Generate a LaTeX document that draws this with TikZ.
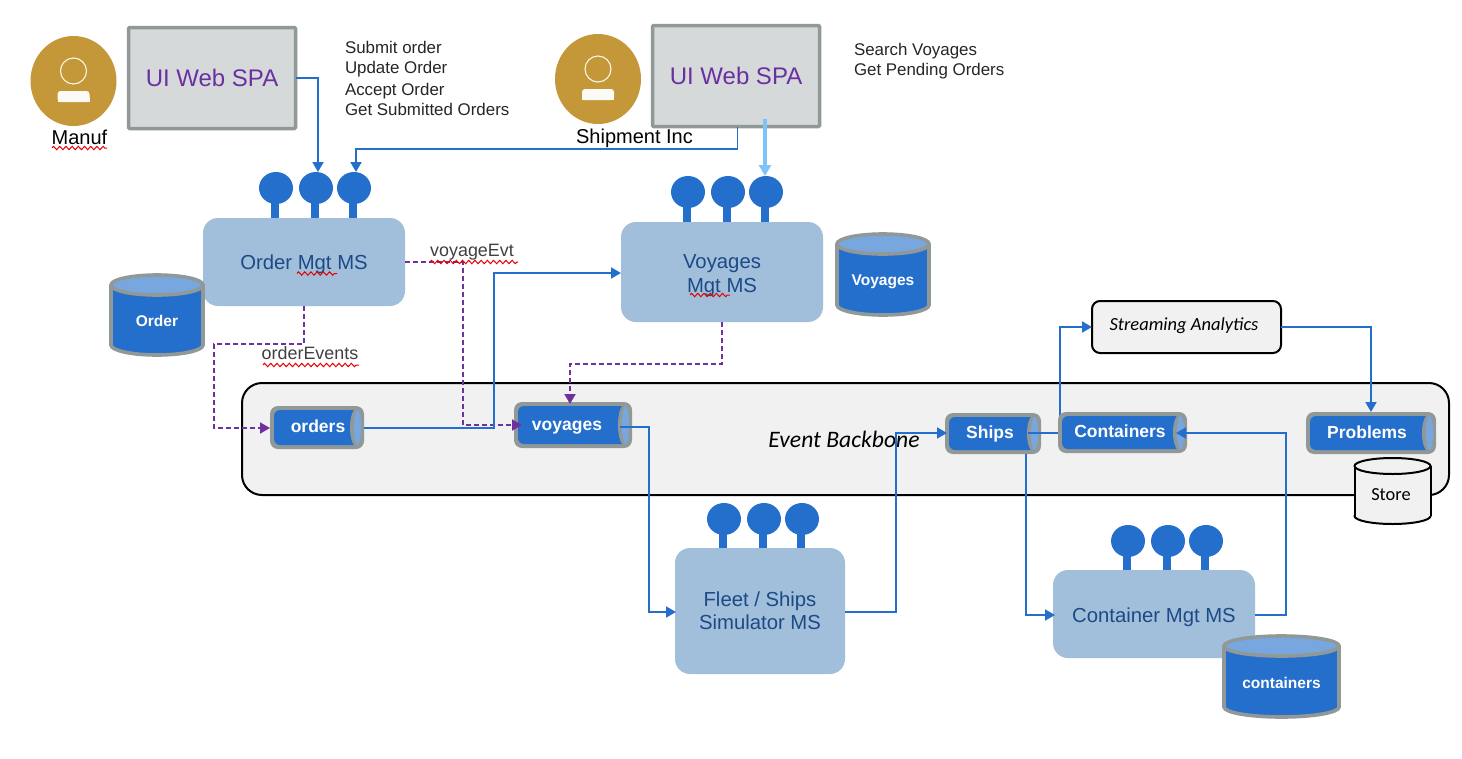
\documentclass[tikz,border=0pt]{standalone}
\usepackage{fontspec}
\setmainfont{Liberation Sans}
\newfontfamily\carl{Carlito}
\usetikzlibrary{arrows.meta,shapes.geometric,decorations.pathmorphing,calc}
\definecolor{ibm}{HTML}{256FCC}
\definecolor{lightb}{HTML}{78A7E0}
\definecolor{grayb}{HTML}{919998}
\definecolor{msfill}{HTML}{A1BFDA}
\definecolor{mstext}{HTML}{1C4A86}
\definecolor{uifill}{HTML}{D5D9DA}
\definecolor{uitext}{HTML}{6A30A0}
\definecolor{person}{HTML}{C49739}
\definecolor{sky}{HTML}{7DC4FF}
\definecolor{dash}{HTML}{7030A0}
\definecolor{panel}{HTML}{F1F1F1}
\newcommand{\fs}[1]{\fontsize{#1}{#1}\selectfont}
\tikzset{
  conn/.style={draw=ibm,line width=1.9pt,-{Triangle[length=10pt,width=11pt]}},
  lightconn/.style={draw=sky,line width=3.5pt,-{Triangle[length=11pt,width=12pt]}},
  evt/.style={draw=dash,line width=1.9pt,dash pattern=on 5pt off 3pt,-{Triangle[length=10pt,width=11pt]}},
  squig/.style={draw=red!90!black,line width=1pt,decorate,decoration={zigzag,segment length=6.2pt,amplitude=1.7pt}},
  lbl/.style={inner sep=0,outer sep=0,anchor=center},
  evenlbl/.style={lbl,text height=13pt,text depth=1pt},
  anchorbox/.style={inner sep=0,outer sep=0},
  uibox/.style={draw=grayb,fill=uifill,line width=3.5pt,rounded corners=1pt,inner sep=0,outer sep=0,text=uitext,font=\fs{24}},
  msbox/.style={fill=msfill,rounded corners=15pt,inner sep=0,outer sep=0,text=mstext,font=\fs{20.3},align=center},
  blackbox/.style={draw=black,fill=panel,line width=2pt,inner sep=0,outer sep=0},
  callout/.style={inner sep=0,outer sep=0,anchor=west,text height=13pt,text depth=1pt,text=black!85,font=\fs{16.9}},
  dblabel/.style={evenlbl,text=white,font=\bfseries\fs{15.5}},
  tubelabel/.style={evenlbl,text=white,font=\bfseries\fs{17.5}},
  evtlabel/.style={evenlbl,text=black!75,font=\fs{17.9}},
  pole/.style={fill=ibm},
  bulb/.style={ellipse,fill=ibm,minimum width=34pt,minimum height=32pt,inner sep=0,outer sep=0},
}
% name, x1, y1, x2, y2, label, label x
\newcommand{\tubeN}[7]{%
  \pgfmathsetmacro{\mx}{(#2+#4)/2}\pgfmathsetmacro{\my}{(#3+#5)/2}%
  \pgfmathsetmacro{\ry}{(#5-#3)/2-2}%
  \fill[grayb,rounded corners=8pt] (#2,#3) rectangle (#4,#5);
  \fill[ibm,rounded corners=6pt] ({#2+4},{#3+4}) rectangle ({#4-4},{#5-4});
  \fill[grayb] ({#4-7},\my) ellipse [x radius=7,y radius=\ry];
  \fill[lightb] ({#4-6.5},\my) ellipse [x radius=3.5,y radius={\ry-2}];
  \node[anchorbox,minimum width={#4-#2},minimum height={#5-#3}] (#1) at (\mx,\my) {};
  \node[tubelabel] (#1-t) at (#7,{\my-1}) {#6};
}
% name, x, ytop-centre, bottom
\newcommand{\lolli}[4]{%
  \fill[pole] ({#2-5},#3) rectangle ({#2+3},#4);
  \node[bulb] (#1) at (#2,#3) {};
}
% name, x1,y1,x2,y2, ry, label, label y
\newcommand{\dbCyl}[8]{%
  \pgfmathsetmacro{\mx}{(#2+#4)/2}\pgfmathsetmacro{\rx}{(#4-#2)/2-2}%
  \fill[ibm,draw=grayb,line width=3.6pt] (\mx,{#5-#6-2}) ellipse [x radius=\rx,y radius=#6];
  \fill[ibm] ({#2+2},{#3+#6+2}) rectangle ({#4-2},{#5-#6-2});
  \draw[grayb,line width=3.6pt] ({#2+2},{#3+#6+2}) -- ({#2+2},{#5-#6-2});
  \draw[grayb,line width=3.6pt] ({#4-2},{#3+#6+2}) -- ({#4-2},{#5-#6-2});
  \fill[lightb,draw=grayb,line width=3.6pt] (\mx,{#3+#6+2}) ellipse [x radius=\rx,y radius=#6];
  \node[dblabel] (#1) at (\mx,#8) {#7};
}
% name, cx, cy
\newcommand{\personIcon}[3]{%
  \node[ellipse,fill=person,minimum width=86pt,minimum height=90pt,inner sep=0,outer sep=0] (#1) at (#2,#3) {};
  \draw[white!90!person,line width=1.1pt] (#2,{#3-10}) circle [radius=13];
  \fill[white!95!person,rounded corners=3pt] ({#2-16},{#3+21}) -- ({#2-16},{#3+10}) -- ({#2+16},{#3+10}) -- ({#2+16},{#3+21}) -- cycle;
  \fill[white!95!person] ({#2-16},{#3+16}) rectangle ({#2+16},{#3+21});
}
\begin{document}
\begin{tikzpicture}[x=1pt,y=-1pt]
\useasboundingbox (0,0) rectangle (1462,758);
\fill[white] (0,0) rectangle (1462,758);

% Event backbone
\node[blackbox,rounded corners=20pt,minimum width=1207pt,minimum height=112pt] (backbone) at (845.5,439) {};
\node[lbl,font=\carl\itshape\fs{23.6}] (bbtext) at (844,439) {Event Backbone};

% People and UIs
\personIcon{manuf}{73.5}{81}
\personIcon{shipper}{598}{79}
\node[uibox,minimum width=167pt,minimum height=101pt] (uiA) at (212,78) {UI Web SPA};
\node[evenlbl,font=\fs{20}] (manufT) at (79.5,138.3) {Manuf};
\node[uibox,minimum width=167pt,minimum height=101pt] (uiB) at (736,76) {UI Web SPA};
\node[evenlbl,font=\fs{20}] (shipT) at (634.5,137.5) {Shipment Inc};

\node[callout] (c1) at (345,47) {Submit order};
\node[callout] (c2) at (345,67) {Update Order};
\node[callout] (c3) at (345,89) {Accept Order};
\node[callout] (c4) at (345,109) {Get Submitted Orders};
\node[callout] (c5) at (854,49) {Search Voyages};
\node[callout] (c6) at (854,69) {Get Pending Orders};

% Microservices
\lolli{oL1}{276}{188}{220}
\lolli{oL2}{316}{188}{220}
\lolli{oL3}{354}{188}{220}
\node[msbox,minimum width=202pt,minimum height=88pt] (order) at (304,262) {\rule{0pt}{20pt}Order Mgt MS};

\lolli{vL1}{688}{192}{224}
\lolli{vL2}{728}{192}{224}
\lolli{vL3}{766}{192}{224}
\node[msbox,minimum width=202pt,minimum height=100pt] (voy) at (722,272) {\rule{0pt}{21pt}Voyages\\[4pt]Mgt MS};

\lolli{fL1}{724}{519}{550}
\lolli{fL2}{764}{519}{550}
\lolli{fL3}{802}{519}{550}
\node[msbox,minimum width=170pt,minimum height=126pt] (fleet) at (760,611) {Fleet / Ships\\[3pt]Simulator MS};

\lolli{cL1}{1128}{541}{572}
\lolli{cL2}{1168}{541}{572}
\lolli{cL3}{1206}{541}{572}
\node[msbox,minimum width=202pt,minimum height=88pt] (cont) at (1154,614) {\rule{0pt}{21pt}Container Mgt MS};

% Databases
\dbCyl{dbOrder}{109}{273}{205}{357}{10}{Order}{320}
\dbCyl{dbVoy}{835}{232}{931}{317}{10}{Voyages}{279}
\dbCyl{dbCont}{1222}{634}{1341}{719}{10}{containers}{682}

% Streaming analytics
\node[blackbox,rounded corners=8pt,minimum width=189pt,minimum height=52pt] (stream) at (1186.5,327) {};
\node[lbl,font=\carl\itshape\fs{18.5}] (streamT) at (1184,326) {Streaming Analytics};

% Topics
\tubeN{tOrders}{270}{406}{364}{449}{orders}{318}
\tubeN{tVoy}{514}{402}{632}{448}{voyages}{567}
\tubeN{tShips}{945}{413}{1041}{454}{Ships}{990}
\draw[conn] ([xshift=-13pt,yshift=0.5pt]tShips.east) -| (1060,380) |- (stream.west);
\tubeN{tCont}{1058}{412}{1187}{453}{Containers}{1120}
\tubeN{tProb}{1306}{412}{1436}{454}{Problems}{1367}

% Store
\draw[draw=black,fill=panel,line width=2pt] (1392.5,516) ellipse [x radius=38,y radius=8];
\fill[panel] (1354.5,466) rectangle (1430.5,516);
\draw[black,line width=2pt] (1354.5,466) -- (1354.5,516);
\draw[black,line width=2pt] (1430.5,466) -- (1430.5,516);
\draw[draw=black,fill=panel,line width=2pt] (1392.5,466) ellipse [x radius=38,y radius=8];
\node[lbl,font=\carl\fs{18.4}] (store) at (1391,495) {Store};

% Connectors
\draw[conn] (uiA.east) -| ([xshift=2pt]oL2.north);
\draw[conn] ([xshift=1.5pt]uiB.south) |- (356,149) -- ([xshift=2pt]oL3.north);
\draw[lightconn] ([xshift=29pt,yshift=8pt]uiB.south) -- ([xshift=-1pt]vL3.north);
\draw[evt] (order.east) -| (463,300) |- ([xshift=8pt]tVoy.west);
\draw[evt] (order.south) |- (214,344) |- ([yshift=-0.5pt]tOrders.west);
\draw[conn] ([yshift=-0.5pt]tOrders.east) -| (494,300) |- ([yshift=-1pt]voy.west);
\draw[evt] (voy.south) |- (570,364) -- ([xshift=-3pt,yshift=-2pt]tVoy.north);
\draw[conn] ([xshift=-12pt,yshift=-2pt]tVoy.east) -| (649,500) |- ([xshift=1pt,yshift=-1pt]fleet.west);
\draw[conn] ([yshift=-1pt]fleet.east) -| (896,500) |- ([xshift=2pt,yshift=0.5pt]tShips.west);
\draw[conn] ([xshift=33pt]tShips.south) |- ([xshift=2pt,yshift=-1pt]cont.west);
\draw[conn] ([yshift=-1pt]cont.east) -| (1286,500) |- ([xshift=-11pt,yshift=-0.5pt]tCont.east);
\draw[conn] (stream.east) -| (tProb.north);

% Connector labels
\node[evtlabel] (vEvt) at (472,250) {voyageEvt};
\node[evtlabel] (oEvt) at (310,353) {orderEvents};

% Spell-check squiggles
\draw[squig] (52,148) -- (107,148);
\draw[squig] (297,273.5) -- (337,273.5);
\draw[squig] (430,262) -- (518,262);
\draw[squig] (263,365) -- (359,365);
\draw[squig] (690,295) -- (730,295);
\end{tikzpicture}
\end{document}
